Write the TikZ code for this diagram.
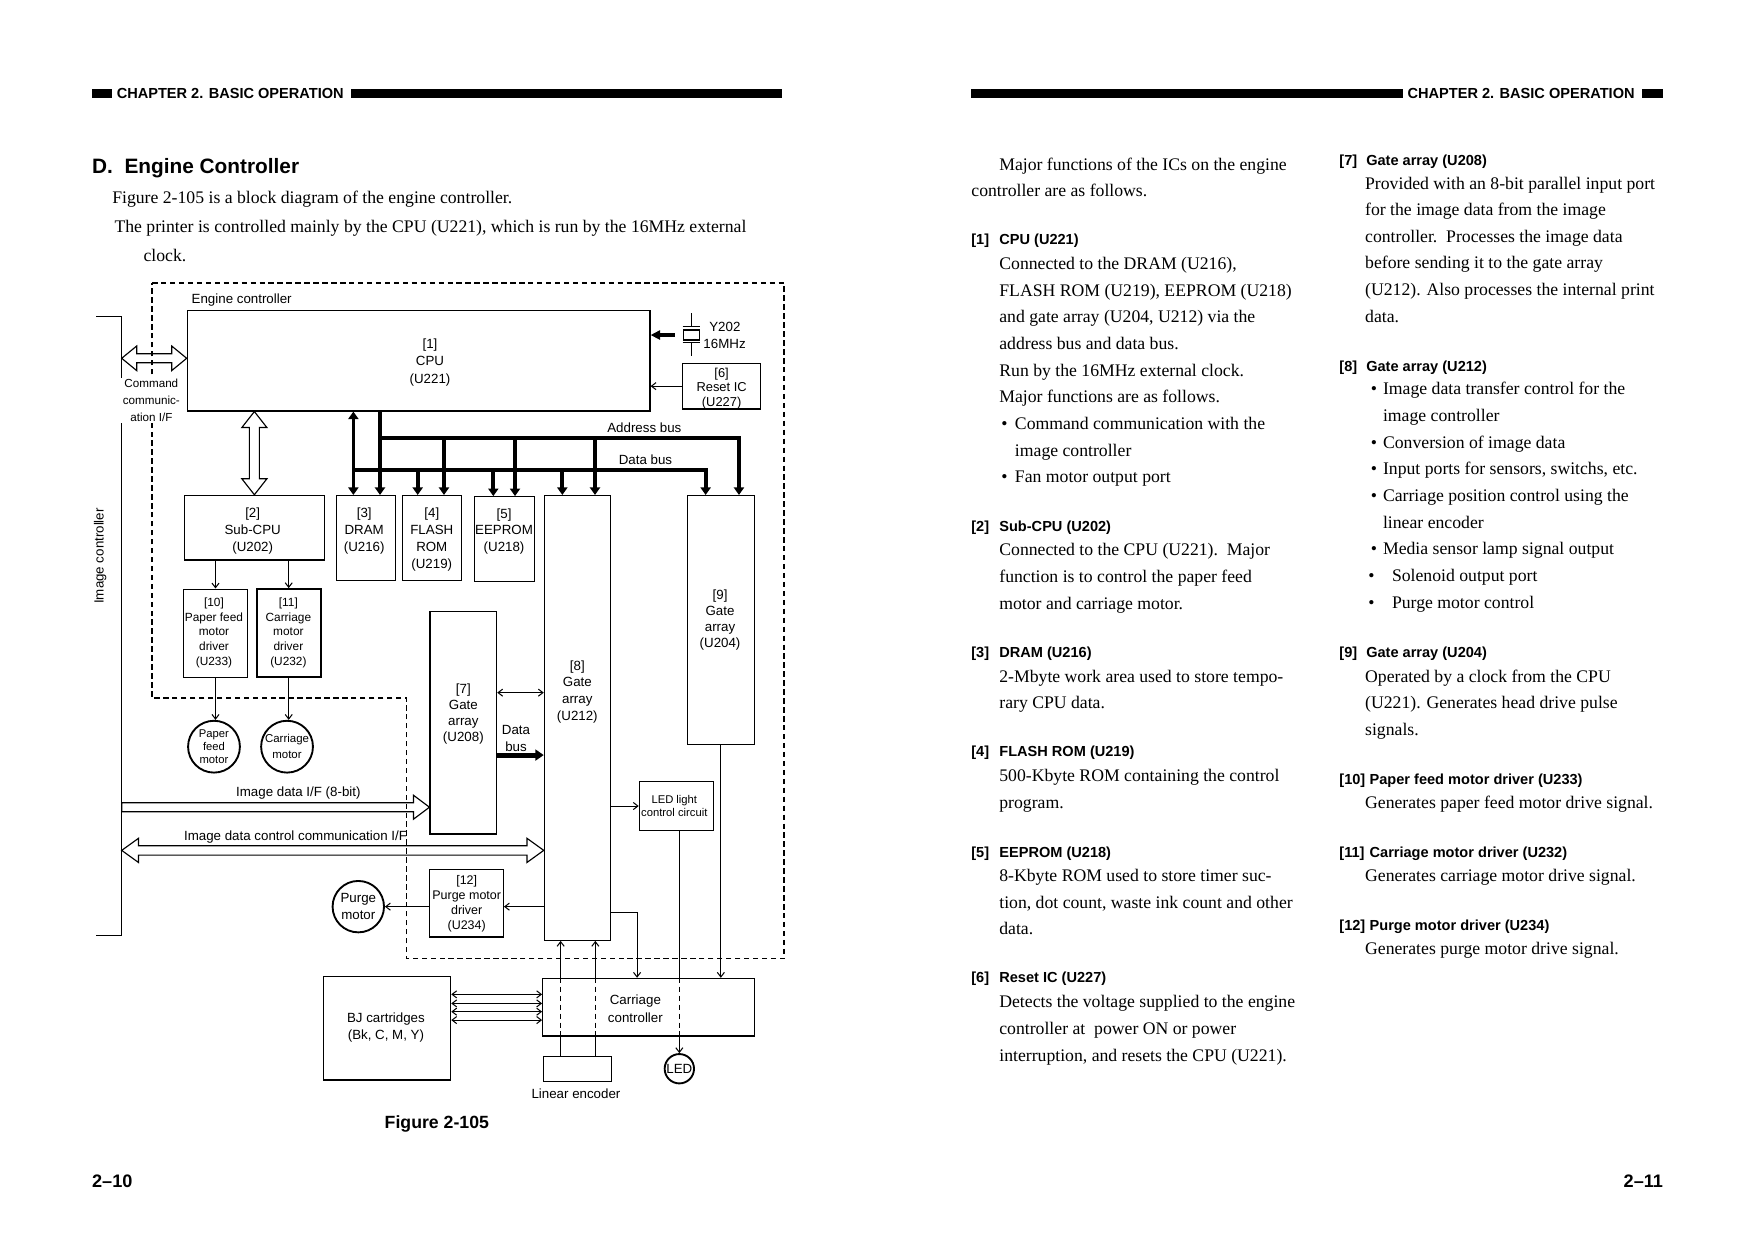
\documentclass[tikz,border=0pt]{standalone}
\usepackage{fontspec}
\setmainfont{Liberation Serif}
\setsansfont{Liberation Sans}
\usetikzlibrary{arrows.meta,positioning,fit,calc}
\newcommand\bl[2]{\hspace*{#1}\makebox[#2][l]{\textbullet}}

\begin{document}
\begin{tikzpicture}[
  x=0.5374pt, y=-0.5374pt,
  font=\sffamily\fontsize{6.4}{8.3}\selectfont,
  >={Straight Barb[length=2.2pt,width=3.4pt]},
  bustip/.tip={Triangle[length=3.6pt,width=4.8pt]},
  blk/.style={draw, line width=0.55pt, inner sep=0pt},
  motor/.style={draw, circle, line width=0.9pt, inner sep=0pt, align=center},
  txt/.style={inner sep=0pt, align=center},
  small/.style={txt, font=\sffamily\fontsize{5.7}{7.2}\selectfont},
  bus/.style={line width=1.8pt, -bustip},
  sig/.style={line width=0.5pt, ->},
  hollow/.style={line width=0.55pt, line join=miter},
  ecline/.style={line width=0.7pt, dash pattern=on 2.6pt off 1.7pt},
  hdr/.style={font=\sffamily\bfseries\fontsize{7}{8}\selectfont, inner sep=0pt, anchor=base west},
  hd/.style={font=\sffamily\bfseries\fontsize{7}{8}\selectfont, inner sep=0pt, anchor=base west},
  bd/.style={font=\rmfamily\fontsize{8.5}{12.8}\selectfont, inner sep=0pt, anchor=base west, align=left},
]
\useasboundingbox (0,0) rectangle (1568,1108.5);

% Page headers
\fill (82,79.5) rectangle (100,88);
\node[hdr] (headL) at (104,88) {CHAPTER 2. BASIC OPERATION};
\fill (314,79.5) rectangle (699,88);
\fill (868,79.5) rectangle (1254,88);
\node[hdr] (headR) at (1258,88) {CHAPTER 2. BASIC OPERATION};
\fill (1468,79.5) rectangle (1487,88);

% Left page text
\node[font=\sffamily\bfseries\fontsize{10}{12}\selectfont, inner sep=0pt, anchor=base west] (title) at (82,154.7) {D.\ \ Engine Controller};
\node[bd] (intro1) at (100,182) {Figure 2-105 is a block diagram of the engine controller.};
\node[bd] (intro2) at (102,208) {The printer is controlled mainly by the CPU (U221), which is run by the 16MHz external};
\node[bd] (intro3) at (128,234) {clock.};

% Engine controller boundary and image controller edge
\draw[ecline] (136,253) -- (701,253) -- (701,857) -- (363.5,857) -- (363.5,624) -- (136,624) -- cycle;
\node[txt, anchor=west] (ectl) at (171,268) {Engine controller};
\coordinate (ictop) at (108.8,283);
\coordinate (icbot) at (108.8,836.5);
\draw[line width=0.7pt] (86,283) -- (ictop) -- (icbot) -- (86,836.5);
\node[txt, rotate=90] (ictl) at (89.5,497) {Image controller};

% Blocks
\node[blk, fit={(167.4,277.7) (581.1,367.4)}] (cpu) {};
\node[txt] (cput) at (384.4,324) {[1]\\CPU\\(U221)};
\node[blk, fit={(610,324.8) (679.7,365.6)}] (reset) {};
\node[txt, font=\sffamily\fontsize{6.2}{7}\selectfont] (resett) at (645.1,347.3) {[6]\\Reset IC\\(U227)};
\node[blk, fit={(165.1,442.8) (290,500.6)}] (subcpu) {};
\node[txt, font=\sffamily\fontsize{6.4}{8}\selectfont] (subcput) at (225.9,474.7) {[2]\\Sub-CPU\\(U202)};
\node[blk, fit={(301,443) (353.4,519)}] (dram) {};
\node[txt, font=\sffamily\fontsize{6.4}{8}\selectfont] (dramt) at (325.6,474.7) {[3]\\DRAM\\(U216)};
\node[blk, fit={(360,443) (412.4,519)}] (flash) {};
\node[txt, font=\sffamily\fontsize{6.4}{8.1}\selectfont] (flasht) at (386,482.4) {[4]\\FLASH\\ROM\\(U219)};
\node[blk, fit={(424,444) (477.7,520)}] (eeprom) {};
\node[txt, font=\sffamily\fontsize{6.4}{8}\selectfont] (eepromt) at (450.6,475) {[5]\\EEPROM\\(U218)};
\node[blk, fit={(486.6,443) (545.9,840.6)}] (ga8) {};
\node[txt, font=\sffamily\fontsize{6.4}{8}\selectfont] (ga8t) at (516.1,618.3) {[8]\\Gate\\array\\(U212)};
\node[blk, fit={(614.5,443) (674.3,665.4)}] (ga9) {};
\node[txt, font=\sffamily\fontsize{6.4}{7.8}\selectfont] (ga9t) at (643.7,554.3) {[9]\\Gate\\array\\(U204)};
\node[blk, fit={(163.9,526.6) (221.4,605.5)}] (pfd) {};
\node[small] (pfdt) at (191.3,565.8) {[10]\\Paper feed\\motor\\driver\\(U233)};
\node[blk, line width=0.9pt, fit={(229.5,526.6) (286.7,605.5)}] (cdrv) {};
\node[small] (cdrvt) at (257.8,565.8) {[11]\\Carriage\\motor\\driver\\(U232)};
\node[blk, fit={(384.4,546.8) (444,745.6)}] (ga7) {};
\node[txt, font=\sffamily\fontsize{6.4}{7.6}\selectfont] (ga7t) at (414.2,638.5) {[7]\\Gate\\array\\(U208)};
\node[blk, fit={(383.8,777.2) (450,837.6)}] (pmd) {};
\node[txt, font=\sffamily\fontsize{6}{7.2}\selectfont] (pmdt) at (417.2,808.2) {[12]\\Purge motor\\driver\\(U234)};
\node[blk, fit={(571.5,698.8) (638,742.3)}] (ledc) {};
\node[txt, font=\sffamily\fontsize{5.4}{6.1}\selectfont] (ledct) at (602.8,720.5) {LED light\\control circuit};
\node[blk, fit={(289,873.1) (402.9,965.5)}] (bj) {};
\node[txt] (bjt) at (345,918.7) {BJ cartridges\\(Bk, C, M, Y)};
\node[blk, fit={(485.7,944.3) (546.5,967)}] (enc) {};
\node[txt] (encl) at (514.9,977.4) {Linear encoder};
\node[motor, minimum size=24.9pt, font=\sffamily\fontsize{5.4}{6.4}\selectfont] (pfm) at (191.3,667.5) {Paper\\feed\\motor};
\node[motor, minimum size=24.9pt, font=\sffamily\fontsize{5.5}{7.5}\selectfont] (cm) at (256.6,667.5) {Carriage\\motor};
\node[motor, minimum size=24.7pt, font=\sffamily\fontsize{6.4}{8}\selectfont] (pm) at (320.3,810.5) {Purge\\motor};
\node[motor, minimum size=14.1pt] (led) at (607.3,955.4) {LED};

% Clock crystal
\node[draw, line width=0.55pt, minimum width=7.4pt, minimum height=4.8pt, inner sep=0pt] (xtal) at (618.2,299.5) {};
\draw[line width=0.55pt] (610.3,292) -- (626,292) (610.3,306.3) -- (626,306.3)
  (xtal.north |- 0,280) -- (xtal.north |- 0,292) (xtal.south |- 0,306.3) -- (xtal.south |- 0,318);
\node[txt] (y202) at (648,292) {Y202};
\node[txt, anchor=west] (mhz) at (628.5,307) {16MHz};
\draw[line width=1.9pt, -{Triangle[length=4.6pt,width=4.4pt]}] ([xshift=-4.1pt]xtal.west) -- (cpu.east |- xtal.west);
\draw[sig] (reset.west) -- (reset.west -| cpu.east);

% Address bus and data bus
\coordinate (ab) at (339.7,391.3);
\coordinate (db) at (315.9,420.2);
\draw[bus, bustip-bustip] (cpu.south -| db) -- (dram.north -| db);
\draw[bus] (cpu.south -| ab) -- (dram.north -| ab);
\draw[bus] (ab) -| (ga9.north -| 660.6,0);
\draw[bus] (db) -| (ga9.north -| 630.8,0);
\foreach \x/\b in {396.9/flash, 460.4/eeprom, 531.9/ga8} \draw[bus] (\x,391.3) -- (\b.north -| \x,0);
\foreach \x/\b in {373.4/flash, 441/eeprom, 502.7/ga8} \draw[bus] (\x,420.2) -- (\b.north -| \x,0);
\node[txt] (abl) at (576,382) {Address bus};
\node[txt] (dbl) at (577,410.6) {Data bus};

% Command communication I/F
\coordinate (cmdl) at (ictop |- 0,320.3);
\coordinate (cmdr) at (cpu.west |- 0,320.3);
\draw[hollow] (cmdl) -- ++(13.4,-11) -- ++(0,7) -- ($(cmdr)+(-13.4,-4)$) -- ++(0,-7) -- (cmdr) -- ++(-13.4,11) -- ++(0,-7) -- ($(cmdl)+(13.4,4)$) -- ++(0,7) -- cycle;
\node[txt, fill=white, inner sep=0.8pt, font=\sffamily\fontsize{5.6}{8}\selectfont] (cmdt) at (135.3,358) {Command\\communic-\\ation I/F};

% CPU <-> Sub-CPU
\coordinate (sat) at (cpu.south -| 227.4,0);
\coordinate (sab) at (subcpu.north -| 227.4,0);
\draw[hollow] (sat) -- ++(-11.2,14.3) -- ++(6.7,0) -- ($(sab)+(-4.5,-14.3)$) -- ++(-6.7,0) -- (sab) -- ++(11.2,-14.3) -- ++(-6.7,0) -- ($(sat)+(4.5,14.3)$) -- ++(6.7,0) -- cycle;

% Sub-CPU side
\draw[sig] (pfd.north |- subcpu.south) -- (pfd.north);
\draw[sig] (cdrv.north |- subcpu.south) -- (cdrv.north);
\draw[sig] (pfd.south) -- (pfd.south |- pfm.north);
\draw[sig] (cdrv.south) -- (cdrv.south |- cm.north);

% Image data interfaces
\coordinate (idt) at (ga7.west |- 0,721.6);
\draw[hollow] (idt) -- ++(-14.3,-10.75) -- ++(0,6.75) -- (ictop |- 0,717.6) -- (ictop |- 0,725.6) -- ($(idt)+(-14.3,4)$) -- ++(0,6.75) -- cycle;
\node[txt] (idl) at (266.7,709.2) {Image data I/F (8-bit)};
\coordinate (icl) at (ictop |- 0,760.2);
\coordinate (icr) at (ga8.west |- 0,760.2);
\draw[hollow] (icl) -- ++(15,-10.8) -- ++(0,6.6) -- ($(icr)+(-15,-4.2)$) -- ++(0,-6.6) -- (icr) -- ++(-15,10.8) -- ++(0,-6.6) -- ($(icl)+(15,4.2)$) -- ++(0,6.6) -- cycle;
\node[txt] (icll) at (264.2,748.5) {Image data control communication I/F};

% Gate arrays
\draw[sig, <->] (ga7.east |- 0,619.2) -- (ga8.west |- 0,619.2);
\draw[line width=2.4pt, -{Triangle[length=4pt,width=5.2pt]}] (ga7.east |- 0,675) -- (ga8.west |- 0,675);
\node[txt, font=\sffamily\fontsize{6.4}{8}\selectfont] (dbl2) at (461.3,660) {Data\\bus};
\draw[sig] (ga8.east |- ledc.west) -- (ledc.west);
\draw[sig] (ga8.west |- pm.east) -- (pmd.east |- pm.east);
\draw[sig] (pmd.west |- pm.east) -- (pm.east);

% Carriage
\draw[sig] (enc.north -| 501.2,0) -- (ga8.south -| 501.2,0);
\draw[sig] (enc.north -| 532.2,0) -- (ga8.south -| 532.2,0);
\draw[sig] (led.north |- ledc.south) -- (led.north);
\node[blk, fill=white, fit={(485.1,874.6) (674.4,926.1)}] (carr) {};
\foreach \x in {501.2,532.2,607.3} \draw[line width=0.5pt, dash pattern=on 2.6pt off 1.7pt] (carr.north -| \x,0) -- (carr.south -| \x,0);
\node[txt] (carrt) at (568,901.7) {Carriage\\controller};
\draw[sig] (ga9.south) -- (ga9.south |- carr.north);
\draw[sig] (ga8.east |- 0,815.6) -| (carr.north -| 569.5,0);
\foreach \y in {888.9,897,904.4,911.9} \draw[sig, <->] (bj.east |- 0,\y) -- (carr.west |- 0,\y);

\node[font=\sffamily\bfseries\fontsize{8.5}{10}\selectfont, inner sep=0pt, anchor=base] (fig) at (390.5,1008.5) {Figure 2-105};
\node[font=\sffamily\bfseries\fontsize{8.7}{10}\selectfont, inner sep=0pt, anchor=base west] (pgL) at (82,1061.8) {2--10};
\node[font=\sffamily\bfseries\fontsize{8.7}{10}\selectfont, inner sep=0pt, anchor=base east] (pgR) at (1487,1061.8) {2--11};

% Right page: IC descriptions (body nodes sit on their last line)
\foreach \i/\xn/\xt/\y/\t in {1/868/893/218.7/CPU (U221), 2/868/893/474.7/Sub-CPU (U202),
  3/868/893/587.7/DRAM (U216), 4/868/893/676.7/FLASH ROM (U219), 5/868/893/766.7/EEPROM (U218),
  6/868/893/878.7/Reset IC (U227), 7/1197/1221/147.7/Gate array (U208), 8/1197/1221/331.7/Gate array (U212),
  9/1197/1221/587.7/Gate array (U204), 10/1197/1224/701.7/Paper feed motor driver (U233),
  11/1197/1224/766.7/Carriage motor driver (U232), 12/1197/1224/831.7/Purge motor driver (U234)} {
  \node[hd] (n\i) at (\xn,\y) {[\i]};
  \node[hd] (t\i) at (\xt,\y) {\t};
}
\node[bd] (b0) at (868,175.8) {\hspace*{13.4pt}Major functions of the ICs on the engine\\controller are as follows.};
\node[bd] (b1) at (893,431.6) {Connected to the DRAM (U216),\\FLASH ROM (U219), EEPROM (U218)\\and gate array (U204, U212) via the\\address bus and data bus.\\Run by the 16MHz external clock.\\Major functions are as follows.\\\bl{1pt}{6.5pt}Command communication with the\\\hspace*{7.5pt}image controller\\\bl{1pt}{6.5pt}Fan motor output port};
\node[bd] (b2) at (893,544.6) {Connected to the CPU (U221).\ \ Major\\function is to control the paper feed\\motor and carriage motor.};
\node[bd] (b3) at (893,633.8) {2-Mbyte work area used to store tempo-\\rary CPU data.};
\node[bd] (b4) at (893,722.8) {500-Kbyte ROM containing the control\\program.};
\node[bd] (b5) at (893,835.6) {8-Kbyte ROM used to store timer suc-\\tion, dot count, waste ink count and other\\data.};
\node[bd] (b6) at (893,948.6) {Detects the voltage supplied to the engine\\controller at\ \ power ON or power\\interruption, and resets the CPU (U221).};
\node[bd] (b7) at (1220,288.1) {Provided with an 8-bit parallel input port\\for the image data from the image\\controller.\ \ Processes the image data\\before sending it to the gate array\\(U212). Also processes the internal print\\data.};
\node[bd] (b8) at (1220,543.6) {\bl{2.7pt}{5.9pt}Image data transfer control for the\\\hspace*{8.6pt}image controller\\\bl{2.7pt}{5.9pt}Conversion of image data\\\bl{2.7pt}{5.9pt}Input ports for sensors, switchs, etc.\\\bl{2.7pt}{5.9pt}Carriage position control using the\\\hspace*{8.6pt}linear encoder\\\bl{2.7pt}{5.9pt}Media sensor lamp signal output\\\bl{1.6pt}{11.3pt}Solenoid output port\\\bl{1.6pt}{11.3pt}Purge motor control};
\node[bd] (b9) at (1220,657.6) {Operated by a clock from the CPU\\(U221). Generates head drive pulse\\signals.};
\node[bd] (b10) at (1220,723) {Generates paper feed motor drive signal.};
\node[bd] (b11) at (1220,788) {Generates carriage motor drive signal.};
\node[bd] (b12) at (1220,853) {Generates purge motor drive signal.};
\end{tikzpicture}
\end{document}
